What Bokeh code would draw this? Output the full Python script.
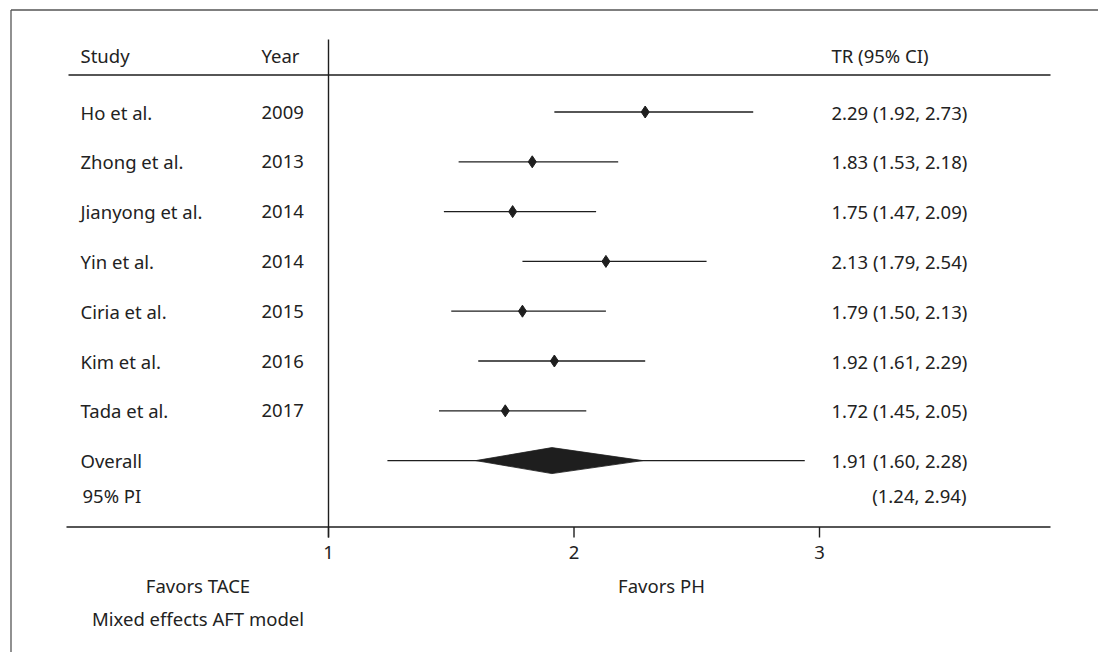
from bokeh.plotting import figure
from bokeh.models import Range1d, ColumnDataSource
from bokeh.core.properties import value
from bokeh.embed import file_html
from bokeh.resources import INLINE

studies = ["Ho et al.", "Zhong et al.", "Jianyong et al.", "Yin et al.", "Ciria et al.", "Kim et al.", "Tada et al."]
years = ["2009", "2013", "2014", "2014", "2015", "2016", "2017"]
tr = [2.29, 1.83, 1.75, 2.13, 1.79, 1.92, 1.72]
lo = [1.92, 1.53, 1.47, 1.79, 1.50, 1.61, 1.45]
hi = [2.73, 2.18, 2.09, 2.54, 2.13, 2.29, 2.05]
overall = 1.91
overall_lo = 1.60
overall_hi = 2.28
pi_lo = 1.24
pi_hi = 2.94
ticks = [1, 2, 3]

W, H = 1098, 652
# pixel mapping (x: data units, y: row index)
X0PX, XSCALE = 328.0, 245.5
Y0PX, YSCALE = 111.5, 49.8
def px2x(px):
    return 1 + (px - X0PX) / XSCALE
def px2y(py):
    return (py - Y0PX) / YSCALE

FONT = "Noto Sans"
FS = "18.5px"
TC = "#222222"
LC = "#1e1e1e"

p = figure(width=W, height=H, output_backend="svg", toolbar_location=None,
           x_range=Range1d(px2x(0), px2x(W)), y_range=Range1d(px2y(H), px2y(0)),
           min_border=0)
p.axis.visible = False
p.grid.visible = False
p.outline_line_color = None
p.background_fill_color = "white"
p.border_fill_color = "white"

n = len(studies)
rows = list(range(n))
src = ColumnDataSource(dict(y=rows, study=studies, year=years, tr=tr, lo=lo, hi=hi,
                            lab=[f"{t:.2f} ({a:.2f}, {b:.2f})" for t, a, b in zip(tr, lo, hi)]))

def txt(x, y, t, align="left", fs=FS, color=TC):
    p.text(x=[x], y=[y], text=[t], text_font=value(FONT), text_font_size=fs,
           text_color=color, text_align=align, text_baseline="middle")

# outer frame (left & top)
p.segment(x0=[px2x(10.5), px2x(10.5)], y0=[px2y(9.5), px2y(9.5)], x1=[px2x(10.5), px2x(W + 5)],
          y1=[px2y(H + 5), px2y(9.5)], line_color="#555555", line_width=1.3)

COLX_STUDY = px2x(80)
COLX_YEAR = px2x(261)
COLX_TR = px2x(831)

# header
hy = px2y(55)
txt(COLX_STUDY, hy, "Study")
txt(COLX_YEAR, hy, "Year")
txt(COLX_TR, hy, "TR (95% CI)")
p.segment(x0=[px2x(68)], y0=[px2y(74.5)], x1=[px2x(1050)], y1=[px2y(74.5)], line_color=LC, line_width=1.4)

# reference line at 1
p.segment(x0=[1], y0=[px2y(39)], x1=[1], y1=[px2y(537)], line_color=LC, line_width=1.4)

# studies
for col, cx in (("study", COLX_STUDY), ("year", COLX_YEAR), ("lab", COLX_TR)):
    p.text(x=cx, y="y", text=col, source=src, text_font=value(FONT), text_font_size=FS,
           text_color=TC, text_baseline="middle")
p.segment(x0="lo", y0="y", x1="hi", y1="y", source=src, line_color=LC, line_width=1.3)
p.scatter(x="tr", y="y", source=src, marker="diamond", size=12, fill_color=LC, line_color=LC)

# overall
oy = n
txt(COLX_STUDY, oy, "Overall")
txt(COLX_TR, oy, f"{overall:.2f} ({overall_lo:.2f}, {overall_hi:.2f})")
p.segment(x0=[pi_lo], y0=[oy], x1=[pi_hi], y1=[oy], line_color=LC, line_width=1.3)
dh = 13 / YSCALE
p.patch(x=[overall_lo, overall, overall_hi, overall], y=[oy, oy - dh, oy, oy + dh],
        fill_color=LC, line_color=LC, line_width=0.8)

# PI
piy = px2y(495)
txt(px2x(82), piy, "95% PI")
txt(px2x(966), piy, f"({pi_lo:.2f}, {pi_hi:.2f})", align="right")

# bottom axis
ay = px2y(526.5)
p.segment(x0=[px2x(66)], y0=[ay], x1=[px2x(1050)], y1=[ay], line_color=LC, line_width=1.4)
p.segment(x0=ticks, y0=[ay] * len(ticks), x1=ticks, y1=[px2y(537)] * len(ticks), line_color=LC, line_width=1.4)
p.text(x=ticks, y=[px2y(552)] * len(ticks), text=[str(t) for t in ticks], text_font=value(FONT),
       text_font_size=FS, text_color=TC, text_align="center", text_baseline="middle")

txt(px2x(197.5), px2y(585), "Favors TACE", align="center")
txt(px2x(661), px2y(585), "Favors PH", align="center")
txt(px2x(197.5), px2y(618), "Mixed effects AFT model", align="center")

open("out.html", "w").write(file_html(p, INLINE))
